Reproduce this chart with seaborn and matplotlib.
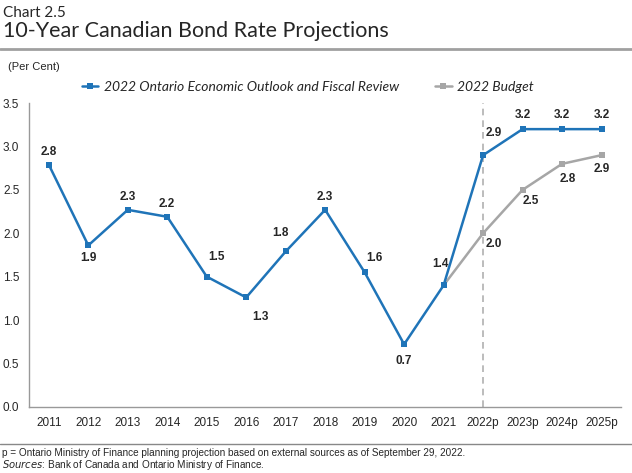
import numpy as np
import pandas as pd
import matplotlib
matplotlib.use('Agg')
import matplotlib.pyplot as plt
import seaborn as sns

# data
years = ['2011', '2012', '2013', '2014', '2015', '2016', '2017', '2018',
         '2019', '2020', '2021', '2022p', '2023p', '2024p', '2025p']
fall_vals = [2.79, 1.86, 2.27, 2.19, 1.50, 1.26, 1.79, 2.27, 1.55, 0.72, 1.40, 2.90, 3.20, 3.20, 3.20]
fall_labels = ['2.8', '1.9', '2.3', '2.2', '1.5', '1.3', '1.8', '2.3', '1.6', '0.7', '1.4', '2.9', '3.2', '3.2', '3.2']
budget_years = ['2021', '2022p', '2023p', '2024p', '2025p']
budget_vals = [1.40, 2.00, 2.50, 2.80, 2.90]
budget_labels = ['', '2.0', '2.5', '2.8', '2.9']
series_names = ['2022 Ontario Economic Outlook and Fiscal Review', '2022 Budget']

blue = '#1f74b8'
grey = '#a6a6a6'

sns.set_style('white')
plain = ['Liberation Sans', 'DejaVu Sans']
plt.rcParams['font.family'] = plain

df = pd.concat([
    pd.DataFrame({'year': years, 'rate': fall_vals, 'series': series_names[0]}),
    pd.DataFrame({'year': budget_years, 'rate': budget_vals, 'series': series_names[1]}),
])
pos = {y: i for i, y in enumerate(years)}
df['x'] = df['year'].map(pos)

fig = plt.figure(figsize=(6.32, 4.73), dpi=100)
ax = fig.add_axes([0.046, 0.140, 0.937, 0.642])

# budget drawn first so the blue line sits on top
sns.lineplot(data=df[df.series == series_names[1]], x='x', y='rate', color=grey,
             marker='s', markersize=5, markeredgewidth=0, linewidth=1.8, ax=ax,
             label=series_names[1])
sns.lineplot(data=df[df.series == series_names[0]], x='x', y='rate', color=blue,
             marker='s', markersize=5, markeredgewidth=0, linewidth=1.8, ax=ax,
             label=series_names[0])

ax.axvline(pos['2022p'], color='#b0b0b0', linestyle=(0, (4, 3)), linewidth=1.2, zorder=0)

# data labels (offsets in points)
fall_off = [(0, 9), (0, -9), (0, 9), (0, 9), (7, 14), (10, -14), (-4, 13), (0, 9),
            (7, 10), (0, -12), (-2, 15), (8, 16), (0, 10), (0, 10), (0, 10)]
for i, (v, t) in enumerate(zip(fall_vals, fall_labels)):
    dx, dy = fall_off[i]
    ax.annotate(t, (i, v), xytext=(dx, dy), textcoords='offset points',
                ha='center', va='center', fontsize=8.5, fontweight='bold')
budget_off = [(0, 0), (8, -8), (6, -8), (4, -11), (0, -10)]
for y, v, t, (dx, dy) in zip(budget_years, budget_vals, budget_labels, budget_off):
    if t:
        ax.annotate(t, (pos[y], v), xytext=(dx, dy), textcoords='offset points',
                    ha='center', va='center', fontsize=8.5, fontweight='bold')

ax.set_xlim(-0.5, len(years) - 0.5)
ax.set_ylim(0, 3.5)
ax.set_yticks(np.arange(0, 3.51, 0.5))
ax.set_yticklabels([f'{v:.1f}' for v in np.arange(0, 3.51, 0.5)], fontsize=8.5)
ax.set_xticks(range(len(years)))
ax.set_xticklabels(years, fontsize=8.5)
ax.set_xticks(np.arange(-0.5, len(years), 1), minor=True)
ax.tick_params(axis='x', which='major', length=0, pad=7)
ax.tick_params(axis='x', which='minor', length=4, color='#888888', direction='out')
ax.tick_params(axis='y', length=4, color='#888888', direction='out', pad=3)
ax.set_xlabel('')
ax.set_ylabel('')
for s in ['top', 'right']:
    ax.spines[s].set_visible(False)
for s in ['left', 'bottom']:
    ax.spines[s].set_color('#999999')
    ax.spines[s].set_linewidth(1)

handles, labels = ax.get_legend_handles_labels()
leg = fig.legend(handles[::-1], labels[::-1], loc='center', bbox_to_anchor=(0.487, 0.816),
                 ncol=2, frameon=False, columnspacing=2.6, handlelength=1.2,
                 handletextpad=0.4, prop={'family': ['Lato', 'DejaVu Sans'], 'style': 'italic', 'size': 10})
ax.get_legend().remove()

# titles
fig.text(0.005, 0.972, 'Chart 2.5', fontsize=11, family=['Lato', 'DejaVu Sans'], va='center')
fig.text(0.005, 0.935, '10-Year Canadian Bond Rate Projections', fontsize=15.5,
         family=['Lato', 'DejaVu Sans'], va='center')
fig.add_artist(plt.Line2D([0, 1], [0.897, 0.897], color='#a0a0a0', linewidth=2,
                          transform=fig.transFigure))
fig.text(0.012, 0.858, '(Per Cent)', fontsize=8, va='center')

# footer
fig.add_artist(plt.Line2D([0, 1], [0.061, 0.061], color='#888888', linewidth=1,
                          transform=fig.transFigure))
fig.text(0.003, 0.042, 'p = Ontario Ministry of Finance planning projection based on external sources as of September 29, 2022.',
         fontsize=7.2, va='center')
fig.text(0.003, 0.017, r'$\it{Sources}$' + ': Bank of Canada and Ontario Ministry of Finance.',
         fontsize=7.2, va='center')

fig.savefig('out.png', dpi=100)
